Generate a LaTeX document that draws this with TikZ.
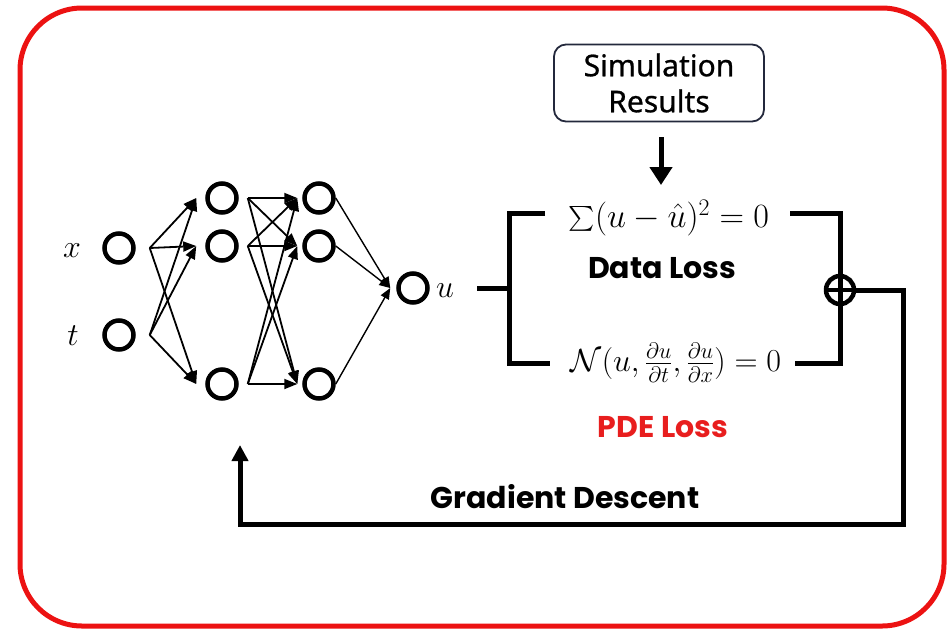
\RequirePackage{fix-cm}
\documentclass[tikz,border=0pt]{standalone}
\usepackage{amsmath}
\usepackage{fontspec}
\usetikzlibrary{arrows.meta}
\newfontfamily\gothic{Poppins}
\newfontfamily\boxfont{Noto Sans}[FakeBold=0.8]
\definecolor{framered}{RGB}{236,18,18}
\definecolor{pdered}{RGB}{232,30,30}
\definecolor{navy}{RGB}{35,40,60}
\begin{document}
\begin{tikzpicture}[x=1pt,y=-1pt,
  neuron/.style={circle,draw,line width=4.5pt,minimum size=29pt,inner sep=0pt},
  fan/.style={line width=1.8pt,-{Triangle[length=13pt,width=10pt]}},
  thinfan/.style={line width=1.4pt,-{Triangle[length=11pt,width=9pt]}},
  bus/.style={line width=5pt},
  mathlbl/.style={font=\fontsize{32}{38}\selectfont,inner sep=0pt},
  loss/.style={font=\gothic\bfseries\fontsize{30}{34}\selectfont,inner sep=0pt},
]
\useasboundingbox (0,0) rectangle (947,630);
% outer frame
\draw[framered,line width=5pt,rounded corners=62pt] (20,8) rectangle (944,626);

% network
\node[neuron] (x) at (119,248) {};
\node[neuron] (t) at (119,335) {};
\node[neuron] (a1) at (222,198) {};
\node[neuron] (a2) at (222,246) {};
\node[neuron] (a3) at (222,384) {};
\node[neuron] (b1) at (319,198) {};
\node[neuron] (b2) at (319,246) {};
\node[neuron] (b3) at (319,384) {};
\node[neuron] (o) at (413,288) {};

\node[mathlbl,anchor=base] (xl) at (72,257) {$x$};
\node[mathlbl,anchor=base] (tl) at (73,345) {$t$};
\node[mathlbl,anchor=base west] (ul) at (436,297) {$u$};

\foreach \s in {x,t}
  \foreach \d in {a1,a2,a3}
    \draw[fan] ([xshift=14pt]\s.east) -- ([xshift=-9pt]\d.west);
\foreach \s in {a1,a2,a3}
  \foreach \d in {b1,b2,b3}
    \draw[fan] ([xshift=9pt]\s.east) -- ([xshift=-5pt]\d.west);
\foreach \s in {b1,b2,b3}
  \draw[thinfan] (\s.east) -- ([xshift=-6pt]o.west);

% simulation results
\node[draw=navy,line width=1.8pt,rounded corners=12pt,minimum width=210pt,
      minimum height=77pt,align=center,inner sep=0pt,
      font=\boxfont\fontsize{30}{36}\selectfont] (sim) at (659,83) {Simulation\\Results};
\coordinate (simtip) at (661,185);
\draw[line width=5pt,-{Triangle[length=18pt,width=22pt]}] ([yshift=-15pt]sim.south -| simtip) -- (simtip);

% losses
\node[mathlbl,font=\fontsize{34}{40}\selectfont] (eq1) at (669,218) {$\sum(u-\hat{u})^2=0$};
\node[loss] (dl) at (662,268) {Data Loss};
\node[mathlbl] (eq2) at (676,363) {$\mathcal{N}(u,\frac{\partial u}{\partial t},\frac{\partial u}{\partial x})=0$};
\node[loss,text=pdered] (pl) at (663,427) {PDE Loss};
\node[loss] (gd) at (565,497) {Gradient Descent};

% bracket wiring
\coordinate (j) at (509,288);
\coordinate (ltop) at (545,213);
\coordinate (lbot) at (550,363);
\coordinate (rtop) at (790,213);
\coordinate (rbot) at (795,363);
\draw[bus] ([xshift=23pt]ul.east |- j) -- (j);
\draw[bus] (ltop) -| (j) |- (lbot);

\node[circle,draw,line width=4.5pt,minimum size=28pt,inner sep=0pt] (sum) at (840,290) {};
\draw[bus] (rtop) -| (sum.north);
\draw[bus] (rbot) -| (sum.south);
\draw[bus] (sum.north) -- (sum.south);
\draw[line width=4pt] (sum.west) -- (sum.east);

% feedback path
\coordinate (c1) at (903,524);
\coordinate (fb) at (240,445);
\draw[bus,-{Triangle[length=16pt,width=16pt]}] (sum.east) -| (c1) -| (fb);
\end{tikzpicture}
\end{document}
